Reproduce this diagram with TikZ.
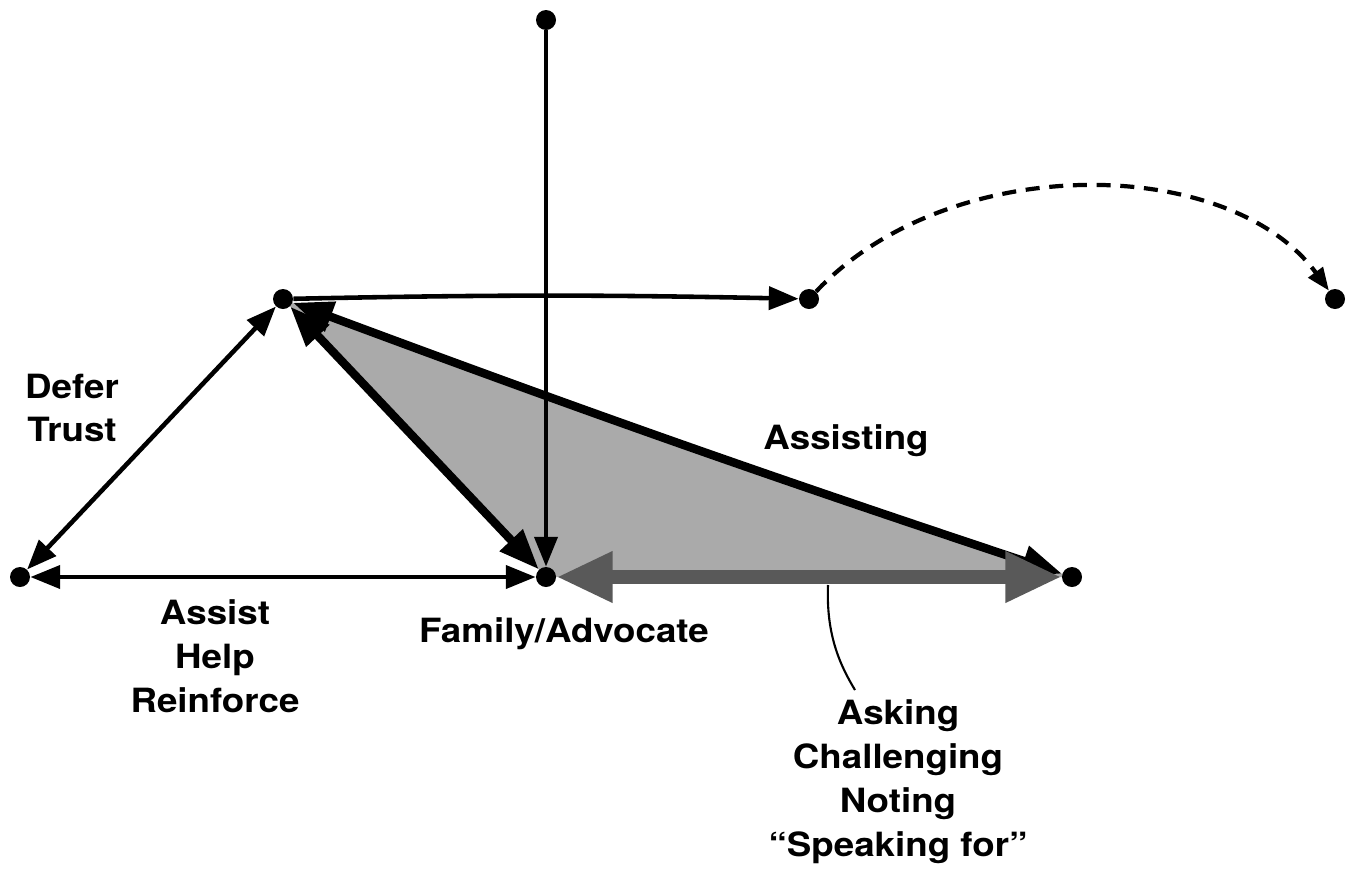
\documentclass[tikz,border=0pt]{standalone}
\usepackage{fontspec}
\setmainfont{TeX Gyre Heros}[FakeStretch=1.1]
\usepackage{tikz}
\usetikzlibrary{arrows.meta,backgrounds}

\tikzset{
  dot/.style={circle, fill=black, inner sep=0pt, minimum size=0.4cm},
  lbl/.style={font=\bfseries\fontsize{19}{25}\selectfont, align=center, inner sep=0pt},
  thinline/.style={line width=2.6pt, >={Triangle[length=17pt,width=13pt]}},
  thickline/.style={line width=4.8pt, >={Triangle[length=23pt,width=17pt]}},
  darkline/.style={line width=8pt, draw=black!65, >={Triangle[length=32pt,width=27pt]}}
}

\begin{document}
\begin{tikzpicture}[x=0.02cm, y=-0.02cm]
                \useasboundingbox (0,0) rectangle (1355,873);
                
                \node[dot] (top) at (546,20) {};
                \node[dot] (trust) at (283,299) {};
                \node[dot] (exit) at (809,299) {};
                \node[dot] (away) at (1335,299) {};
                \node[dot] (assist) at (20,577) {};
                \node[dot] (family) at (546,577) {};
                \node[dot] (asking) at (1072,577) {};
                
                \begin{pgfonlayer}{background}
                \fill[gray!67] (trust.center) -- (family.center) -- (asking.center) to[bend left=1] (trust.center);
                \end{pgfonlayer}
                
                \draw[thinline, ->] (trust) to[bend left=1.2] (exit);
                \draw[line width=2.4pt, dash pattern=on 8pt off 5.5pt, -{Triangle[length=13pt,width=10pt]}] (exit) .. controls (950,150) and (1230,155) .. (away);
                \draw[thinline, ->] (top) -- (family);
                \draw[thinline, <->] (assist) -- (trust);
                \draw[thinline, <->] (assist) -- (family);
                \draw[thickline, <->] (trust) -- (family);
                \draw[thickline, <->] (trust) to[bend right=1] (asking);
                \draw[darkline, <->] (family) -- (asking);
                
                \node[lbl] (defer) at (72,408) {Defer\\Trust};
                \node[lbl] (help) at (215,656) {Assist\\Help\\Reinforce};
                \node[lbl] (famlbl) at (564,634) {Family/Advocate};
                \node[lbl] (assisting) at (846,441) {Assisting};
                \node[lbl] (noting) at (898,782) {Asking\\Challenging\\Noting\\“Speaking for”};
                
                \coordinate (leadtop) at (828,585);
                \coordinate (leadend) at (855,690);
                \draw[line width=1.2pt] (leadtop) .. controls (826,635) and (840,665) .. (leadend);
            \end{tikzpicture}
\end{document}
